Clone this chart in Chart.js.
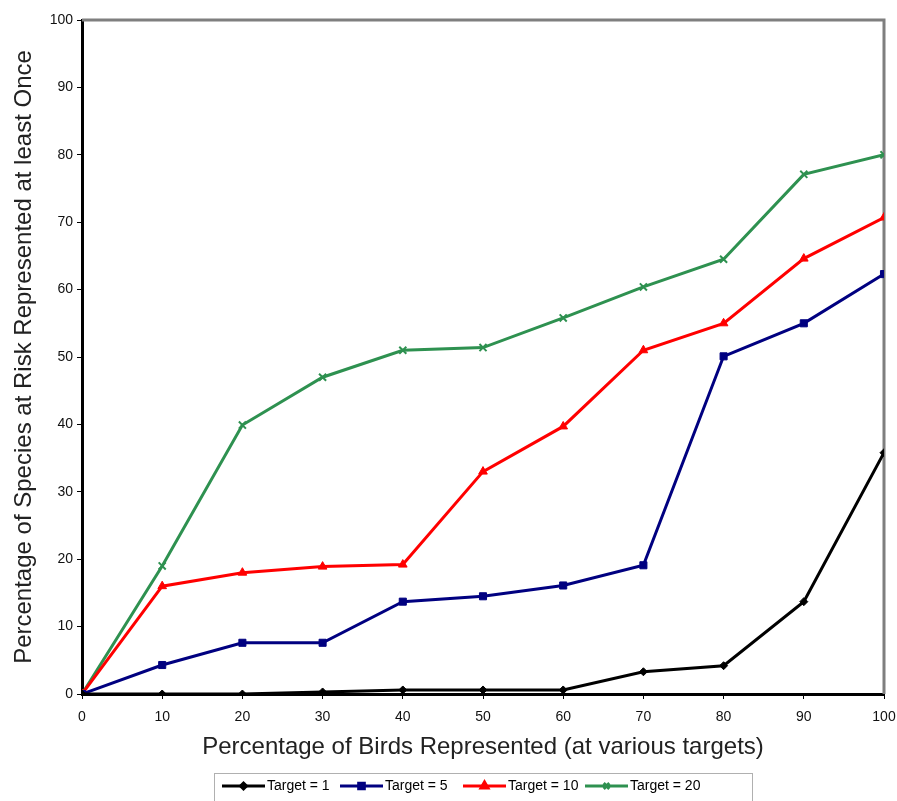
<!DOCTYPE html>
<html>
<head>
<meta charset="utf-8">
<script src="https://cdn.jsdelivr.net/npm/chart.js@4.4.1/dist/chart.umd.min.js"></script>
<style>
  html, body { margin: 0; padding: 0; background: #fff; }
  #wrap { width: 897px; height: 801px; }
</style>
</head>
<body>
<div id="wrap"><canvas id="birdsChart" width="897" height="801"></canvas></div>
<script>
// x values (percentage of birds represented)
const birdPct = [0, 10, 20, 30, 40, 50, 60, 70, 80, 90, 100];

// percentage of species at risk represented at least once
const target1  = [0, 0, 0, 0.3, 0.6, 0.6, 0.6, 3.3, 4.2, 13.7, 35.8];
const target5  = [0, 4.3, 7.6, 7.6, 13.7, 14.5, 16.1, 19.1, 50.1, 55.0, 62.3];
const target10 = [0, 16.0, 18.0, 18.9, 19.2, 33.0, 39.7, 51.0, 55.0, 64.6, 70.7];
const target20 = [0, 19.0, 39.9, 47.0, 51.0, 51.4, 55.8, 60.4, 64.5, 77.1, 80.0];

const seriesNames = ['Target = 1', 'Target = 5', 'Target = 10', 'Target = 20'];
const yTicks = [0, 10, 20, 30, 40, 50, 60, 70, 80, 90, 100];

function pts(vals) {
  return vals.map((v, i) => ({ x: birdPct[i], y: v }));
}

const FONT = 'Arial, "Liberation Sans", sans-serif';

// gray frame on top and right of plot area
const frame = {
  id: 'frame',
  beforeDatasetsDraw(chart) {
    const a = chart.chartArea, ctx = chart.ctx;
    ctx.save();
    ctx.strokeStyle = '#7f7f7f';
    ctx.lineWidth = 3;
    ctx.beginPath();
    ctx.moveTo(a.left, a.top);
    ctx.lineTo(a.right, a.top);
    ctx.lineTo(a.right, a.bottom);
    ctx.stroke();
    ctx.restore();
  }
};

// legend box under the chart: line + marker + label
const legendBox = {
  id: 'legendBox',
  afterDraw(chart) {
    const ctx = chart.ctx;
    const bx = 214, by = 773, bw = 538, bh = 32;
    const cy = 786;
    const starts = [222, 340, 463, 585];
    ctx.save();
    ctx.strokeStyle = '#b0b0b0';
    ctx.lineWidth = 1;
    ctx.strokeRect(bx + 0.5, by + 0.5, bw, bh);
    ctx.font = '14px ' + FONT;
    ctx.textBaseline = 'middle';
    chart.data.datasets.forEach((ds, i) => {
      const x0 = starts[i];
      ctx.strokeStyle = ds.borderColor;
      ctx.fillStyle = ds.backgroundColor;
      ctx.lineWidth = 3;
      ctx.beginPath();
      ctx.moveTo(x0, cy);
      ctx.lineTo(x0 + 43, cy);
      ctx.stroke();
      Chart.helpers.drawPoint(ctx, {
        pointStyle: ds.pointStyle,
        radius: ds.pointRadius - 1,
        borderWidth: ds.pointBorderWidth || 1,
        rotation: 0
      }, x0 + 21.5, cy);
      ctx.fillStyle = '#000';
      ctx.fillText(ds.label, x0 + 45, cy);
    });
    ctx.restore();
  }
};

function ds(label, vals, color, style, radius) {
  return {
    label: label,
    data: pts(vals),
    borderColor: color,
    backgroundColor: color,
    borderWidth: 3,
    pointStyle: style,
    pointRadius: radius,
    pointHoverRadius: radius,
    pointBorderWidth: style === 'crossRot' ? 2 : 1,
    tension: 0
  };
}

new Chart(document.getElementById('birdsChart'), {
  type: 'line',
  data: {
    datasets: [
      ds(seriesNames[0], target1, '#000000', 'rectRot', 4),
      ds(seriesNames[1], target5, '#000080', 'rect', 5),
      ds(seriesNames[2], target10, '#ff0000', 'triangle', 5),
      ds(seriesNames[3], target20, '#2e9150', 'crossRot', 5)
    ]
  },
  plugins: [frame, legendBox],
  options: {
    responsive: false,
    animation: false,
    layout: { padding: { left: 0, top: 20, right: 13, bottom: 37 } },
    plugins: {
      legend: { display: false },
      tooltip: { enabled: false }
    },
    scales: {
      x: {
        type: 'linear',
        min: 0,
        max: 100,
        afterFit(scale) {
          scale.height = 70;
          scale.paddingLeft = 0;
          scale.paddingRight = 0;
        },
        afterBuildTicks(scale) { scale.ticks = birdPct.map(v => ({ value: v })); },
        grid: { drawOnChartArea: false, drawTicks: true, tickLength: 5, color: '#000', lineWidth: 1 },
        border: { display: true, color: '#000', width: 3 },
        ticks: { color: '#111', font: { family: FONT, size: 14 }, padding: 10 },
        title: {
          display: true,
          text: 'Percentage of Birds Represented (at various targets)',
          color: '#222',
          font: { family: FONT, size: 24 },
          padding: { bottom: 2 }
        }
      },
      y: {
        min: 0,
        max: 100,
        afterFit(scale) {
          scale.width = 82;
          scale.paddingTop = 0;
          scale.paddingBottom = 0;
        },
        afterBuildTicks(scale) { scale.ticks = yTicks.map(v => ({ value: v })); },
        grid: { drawOnChartArea: false, drawTicks: true, tickLength: 5, color: '#000', lineWidth: 1 },
        border: { display: true, color: '#000', width: 3 },
        ticks: { color: '#111', font: { family: FONT, size: 14 }, padding: 4 },
        title: {
          display: true,
          text: 'Percentage of Species at Risk Represented at least Once',
          color: '#222',
          font: { family: FONT, size: 24 },
          padding: { top: 10 }
        }
      }
    }
  }
});
</script>
</body>
</html>
